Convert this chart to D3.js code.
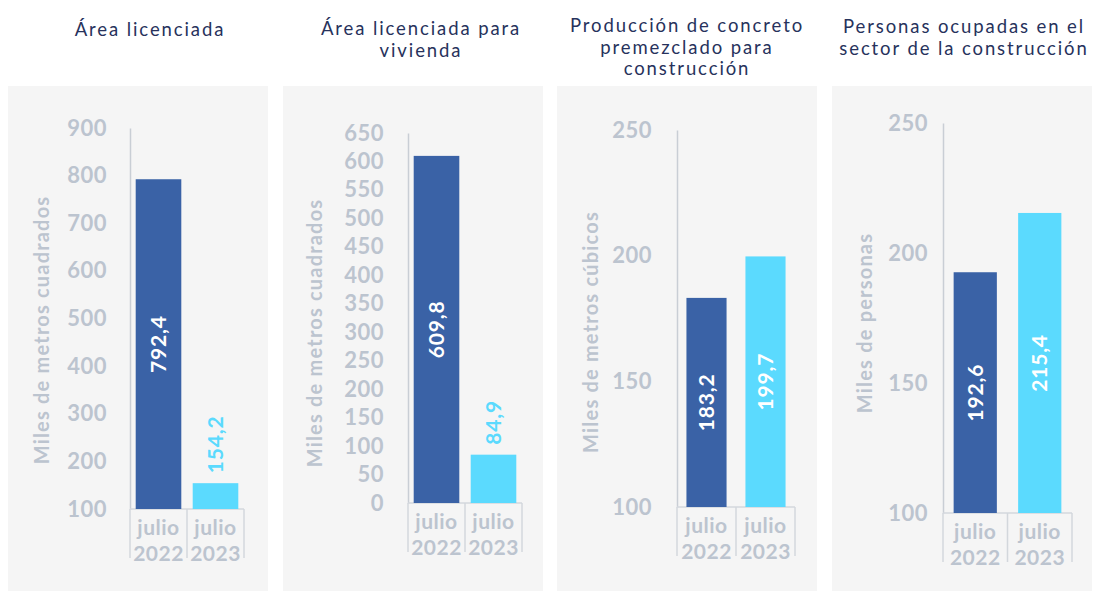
<!DOCTYPE html>
<html>
<head>
<meta charset="utf-8">
<script src="https://cdn.jsdelivr.net/npm/d3@7"></script>
<style>
  body { margin: 0; background: #fff; }
  svg text { font-family: Lato, "Open Sans", sans-serif; }
</style>
</head>
<body>
<svg id="chart" width="1094" height="591"></svg>
<script>
// ---- data ----
const titles = [
  ["Área licenciada"],
  ["Área licenciada para", "vivienda"],
  ["Producción de concreto", "premezclado para", "construcción"],
  ["Personas ocupadas en el", "sector de la construcción"]
];
const yLabels = ["Miles de metros cuadrados", "Miles de metros cuadrados", "Miles de metros cúbicos", "Miles de personas"];
const categories = [["julio", "2022"], ["julio", "2023"]];
const values2022 = [792.4, 609.8, 183.2, 192.6];
const values2023 = [154.2, 84.9, 199.7, 215.4];
const yMin = [100, 0, 100, 100];
const yMax = [900, 650, 250, 250];
const yStep = [100, 50, 50, 50];

// ---- layout for each panel ----
const panels = [
  { bgX: 8,   axisX: 130, right: 244,  top: 128, base: 509, barW: 0.8,  tickPad: 23, labX: 42,  labY: 330, titleX: 150, titleY: 36 },
  { bgX: 283, axisX: 408, right: 522,  top: 133, base: 503, barW: 0.8,  tickPad: 24, labX: 315, labY: 333, titleX: 421, titleY: 35 },
  { bgX: 557, axisX: 677, right: 795,  top: 130, base: 507, barW: 0.68, tickPad: 25, labX: 591, labY: 332, titleX: 687, titleY: 32 },
  { bgX: 832, axisX: 943, right: 1072, top: 123, base: 513, barW: 0.67, tickPad: 15, labX: 865, labY: 323, titleX: 964, titleY: 33 }
];

const colors = ["#3A62A6", "#5BDAFE"];
const grey = "#BCC4CF";
const lineGrey = "#D3D7DC";

const locale = d3.formatLocale({ decimal: ",", thousands: ".", grouping: [3], currency: ["$", ""] });
const fmt = locale.format(".1f");

const svg = d3.select("#chart");

panels.forEach((p, i) => {
  const g = svg.append("g");

  // panel background
  g.append("rect")
    .attr("x", p.bgX).attr("y", 86)
    .attr("width", 260).attr("height", 510)
    .attr("fill", "#F5F5F5");

  // title, one text per line
  g.selectAll(".title")
    .data(titles[i])
    .enter().append("text")
    .attr("x", p.titleX)
    .attr("y", (d, k) => p.titleY + k * 21.5)
    .attr("text-anchor", "middle")
    .attr("fill", "#27325C")
    .style("font-size", "18.5px")
    .style("letter-spacing", "1.9px")
    .text(d => d);

  // scales
  const x = d3.scaleBand().domain([0, 1]).range([p.axisX, p.right]).padding(0);
  const y = d3.scaleLinear().domain([yMin[i], yMax[i]]).range([p.base, p.top]);

  // y axis
  const yAxis = g.append("g")
    .attr("transform", `translate(${p.axisX},0)`)
    .call(d3.axisLeft(y)
      .tickValues(d3.range(yMin[i], yMax[i] + 1, yStep[i]))
      .tickSize(0)
      .tickPadding(p.tickPad)
      .tickFormat(d3.format("d")));
  yAxis.select(".domain").attr("stroke", "#C9CED5").attr("stroke-width", 1.5);
  yAxis.selectAll("text")
    .attr("fill", grey)
    .style("font-size", "22px")
    .style("font-weight", "bold")
    .style("letter-spacing", "0.5px");

  // y axis title
  g.append("text")
    .attr("transform", `translate(${p.labX},${p.labY}) rotate(-90)`)
    .attr("text-anchor", "middle")
    .attr("dy", "0.35em")
    .attr("fill", grey)
    .style("font-size", "20px")
    .style("font-weight", "bold")
    .style("letter-spacing", "1.2px")
    .text(yLabels[i]);

  // category boxes
  g.append("line")
    .attr("x1", p.axisX).attr("x2", p.right)
    .attr("y1", p.base).attr("y2", p.base)
    .attr("stroke", lineGrey).attr("stroke-width", 1.5);
  const edges = [x(0), x(1), x(1) + x.bandwidth()];
  g.selectAll(".sep")
    .data(edges)
    .enter().append("line")
    .attr("x1", d => d).attr("x2", d => d)
    .attr("y1", p.base).attr("y2", p.base + 49)
    .attr("stroke", lineGrey).attr("stroke-width", 1.5);

  const cats = g.selectAll(".cat")
    .data(categories)
    .enter().append("text")
    .attr("text-anchor", "middle")
    .attr("fill", grey)
    .style("font-size", "21px")
    .style("font-weight", "bold")
    .style("letter-spacing", "0.5px");
  cats.append("tspan")
    .attr("x", (d, k) => x(k) + x.bandwidth() / 2)
    .attr("y", p.base + 26)
    .text(d => d[0]);
  cats.append("tspan")
    .attr("x", (d, k) => x(k) + x.bandwidth() / 2)
    .attr("y", p.base + 52)
    .text(d => d[1]);

  // bars
  const vals = [values2022[i], values2023[i]];
  const bw = x.bandwidth() * p.barW;
  g.selectAll(".bar")
    .data(vals)
    .enter().append("rect")
    .attr("x", (d, k) => x(k) + (x.bandwidth() - bw) / 2)
    .attr("y", d => y(Math.max(d, yMin[i])))
    .attr("width", bw)
    .attr("height", d => p.base - y(Math.max(d, yMin[i])))
    .attr("fill", (d, k) => colors[k]);

  // value labels
  const inside = d => p.base - y(d) > 70;
  g.selectAll(".val")
    .data(vals)
    .enter().append("text")
    .attr("transform", (d, k) => {
      const cx = x(k) + x.bandwidth() / 2;
      const cy = inside(d) ? (y(d) + p.base) / 2 : y(d) - 10;
      return `translate(${cx},${cy}) rotate(-90)`;
    })
    .attr("text-anchor", d => (inside(d) ? "middle" : "start"))
    .attr("dy", "0.35em")
    .attr("fill", (d, k) => (inside(d) ? "#fff" : colors[k]))
    .style("font-size", "21px")
    .style("font-weight", "bold")
    .style("letter-spacing", "0.8px")
    .text(d => fmt(d));
});
</script>
</body>
</html>
